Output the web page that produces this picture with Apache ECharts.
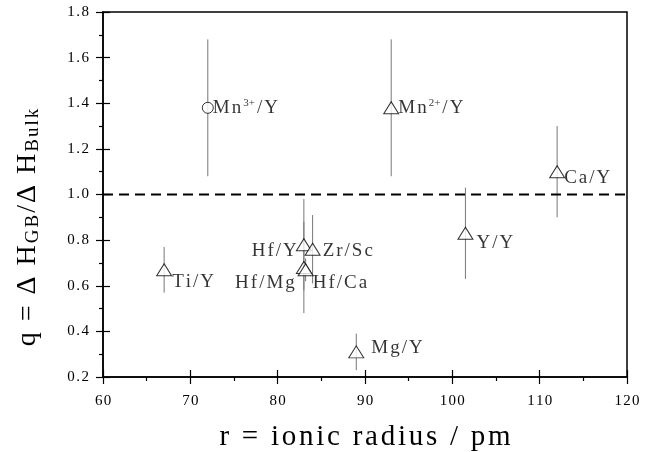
<!DOCTYPE html>
<html>
<head>
<meta charset="utf-8">
<script src="https://cdn.jsdelivr.net/npm/echarts@6/dist/echarts.min.js"></script>
<style>
  html, body { margin: 0; padding: 0; background: #fff; }
  #chart { width: 652px; height: 452px; }
</style>
</head>
<body>
<div id="chart"></div>
<script>
// ionic radius (pm), q value, error half width, marker, label
var names   = ['Mn3+/Y', 'Mn2+/Y', 'Ca/Y', 'Y/Y', 'Ti/Y', 'Hf/Y', 'Zr/Sc', 'Hf/Mg', 'Hf/Ca', 'Mg/Y'];
var radius  = [72, 93, 112, 101.5, 67, 83, 84, 83, 83.2, 89];
var qValues = [1.38, 1.38, 1.10, 0.83, 0.67, 0.78, 0.76, 0.68, 0.67, 0.31];
var qErrors = [0.30, 0.30, 0.20, 0.20, 0.10, 0.20, 0.15, 0.20, 0.05, 0.08];
var symbols = ['circle', 'triangle', 'triangle', 'triangle', 'triangle', 'triangle', 'triangle', 'triangle', 'triangle', 'triangle'];
var labelMain = [['Mn', '3+', '/Y'], ['Mn', '2+', '/Y'], ['Ca/Y'], ['Y/Y'], ['Ti/Y'],
                 ['Hf/Y'], ['Zr/Sc'], ['Hf/Mg'], ['Hf/Ca'], ['Mg/Y']];
var labelPos = ['right', 'right', 'right', 'right', 'right', 'left', 'right', 'left', 'right', 'right'];
var labelOffset = [[-2, 0], [-2, 0], [-2, 6], [2, 10], [-1, 12], [2, 6], [1, 2], [0, 16], [-2, 13], [6, -4]];
var refLine = 1.0;

var font = "'Liberation Serif', 'DejaVu Serif', serif";

// spread letters a bit, like the original plot's lettering
function sp(s, gap) {
    return s.split('').join('{' + gap + '| }');
}
function spTok(s, tok, gap) {
    return s.split('').map(function (c) { return '{' + tok + '|' + c + '}'; }).join('{' + gap + '| }');
}

var chart = echarts.init(document.getElementById('chart'));

var pts = [];
var bars = [];
for (var i = 0; i < names.length; i++) {
    var parts = labelMain[i];
    var txt = parts.length === 3
        ? sp(parts[0], 'g') + '{g| }{sup|' + parts[1] + '}{g| }' + sp(parts[2], 'g')
        : sp(parts[0], 'g');
    pts.push({
        value: [radius[i], qValues[i]],
        symbol: symbols[i],
        symbolSize: symbols[i] === 'circle' ? 11 : [15, 12],
        label: {
            show: true,
            formatter: txt,
            position: labelPos[i],
            distance: 1,
            offset: labelOffset[i]
        }
    });
    bars.push([radius[i], qValues[i] - qErrors[i], qValues[i] + qErrors[i]]);
}

var yTitle = sp('q = Δ H', 'g') + '{g| }' + spTok('GB', 'sub', 'g') + '{g| }' +
             sp('/Δ H', 'g') + '{g| }' + spTok('Bulk', 'sub', 'g');

var tickStyle = { color: '#000', width: 1.2 };

var option = {
    animation: false,
    backgroundColor: '#fff',
    grid: {
        left: 103, right: 25, top: 12, bottom: 75,
        outerBoundsMode: 'none',
        containLabel: false,
        show: true, borderColor: '#000', borderWidth: 1.5
    },
    xAxis: [{
        type: 'value', min: 60, max: 120, interval: 10,
        name: sp('r = ionic radius / pm', 'g'),
        nameLocation: 'middle', nameGap: 46,
        nameTextStyle: {
            fontFamily: font, fontSize: 29, color: '#000',
            rich: { g: { fontFamily: font, fontSize: 11 } }
        },
        axisLine: { lineStyle: { color: '#000', width: 1.5 } },
        axisTick: { length: 7, lineStyle: tickStyle },
        minorTick: { show: true, splitNumber: 2, length: 4, lineStyle: tickStyle },
        splitLine: { show: false },
        axisLabel: {
            fontFamily: font, fontSize: 15, color: '#000', margin: 17,
            formatter: function (v) { return sp(String(v), 'g'); },
            rich: { g: { fontFamily: font, fontSize: 5 } }
        }
    }, {
        // inner half of the major ticks
        type: 'value', min: 60, max: 120, interval: 10, position: 'bottom',
        axisLine: { show: false },
        axisTick: { inside: true, length: 7, lineStyle: tickStyle },
        axisLabel: { show: false },
        splitLine: { show: false }
    }],
    yAxis: [{
        type: 'value', min: 0.2, max: 1.8, interval: 0.2,
        name: yTitle,
        nameLocation: 'middle', nameGap: 60, nameRotate: 90,
        nameTextStyle: {
            fontFamily: font, fontSize: 28, color: '#000',
            padding: [0, 66, 0, 0],
            rich: {
                g: { fontFamily: font, fontSize: 8 },
                sub: { fontFamily: font, fontSize: 19, color: '#000', verticalAlign: 'bottom', padding: [12, 0, 0, 0] }
            }
        },
        axisLine: { lineStyle: { color: '#000', width: 1.5 } },
        axisTick: { length: 7, lineStyle: tickStyle },
        minorTick: { show: true, splitNumber: 2, length: 4, lineStyle: tickStyle },
        splitLine: { show: false },
        axisLabel: {
            fontFamily: font, fontSize: 15, color: '#000', margin: 14,
            formatter: function (v) { return sp(v.toFixed(1), 'g'); },
            rich: { g: { fontFamily: font, fontSize: 6 } }
        }
    }, {
        type: 'value', min: 0.2, max: 1.8, interval: 0.2, position: 'left',
        axisLine: { show: false },
        axisTick: { inside: true, length: 7, lineStyle: tickStyle },
        axisLabel: { show: false },
        splitLine: { show: false }
    }],
    series: [
        {
            type: 'custom',
            data: bars,
            z: 1,
            renderItem: function (params, api) {
                var lo = api.coord([api.value(0), api.value(1)]);
                var hi = api.coord([api.value(0), api.value(2)]);
                return {
                    type: 'line',
                    shape: { x1: lo[0], y1: lo[1], x2: hi[0], y2: hi[1] },
                    style: { stroke: '#777', lineWidth: 1 }
                };
            }
        },
        {
            type: 'line',
            data: [[60, refLine], [120, refLine]],
            symbol: 'none',
            z: 2,
            lineStyle: { color: '#000', width: 2, type: [10, 6] }
        },
        {
            type: 'scatter',
            data: pts,
            z: 3,
            itemStyle: { color: '#fff', borderColor: '#000', borderWidth: 1 },
            label: {
                fontFamily: font, fontSize: 19, color: '#000',
                rich: {
                    g: { fontFamily: font, fontSize: 8 },
                    sup: { fontFamily: font, fontSize: 11, color: '#000', verticalAlign: 'top', padding: [0, 0, 9, 0] }
                }
            }
        }
    ]
};

chart.setOption(option);
</script>
</body>
</html>
